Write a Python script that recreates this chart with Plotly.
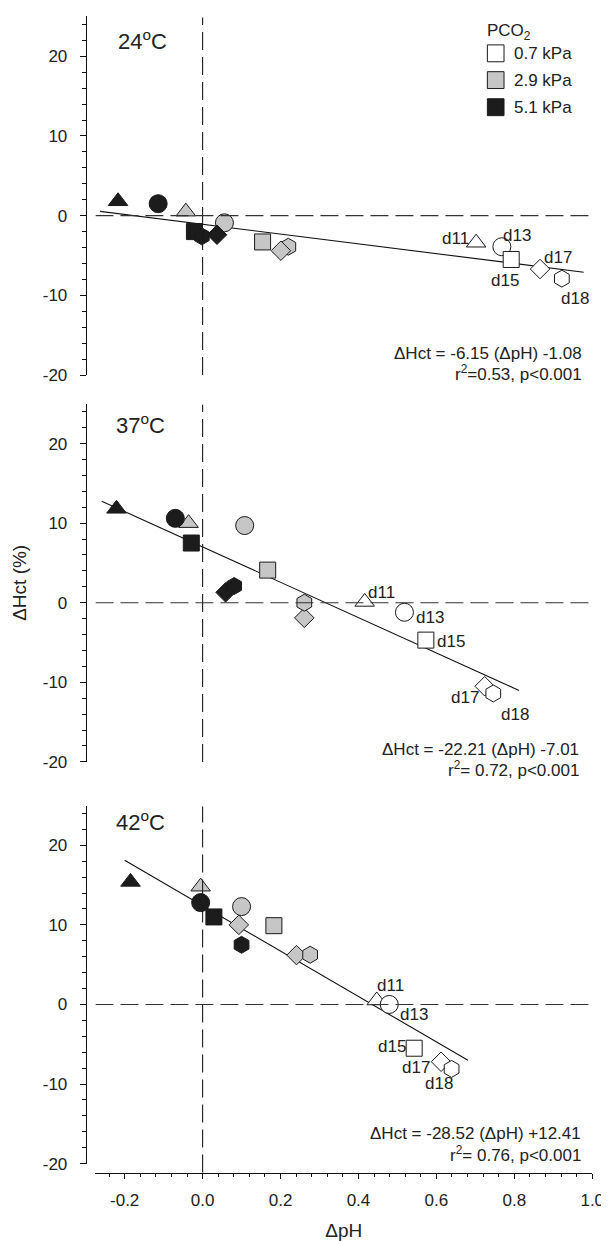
import plotly.graph_objects as go

W, H = 609, 1241

# ---------------- data ----------------
temps = ["24", "37", "42"]
days = ["d11", "d13", "d15", "d17", "d18"]
pco2_levels = ["0.7 kPa", "2.9 kPa", "5.1 kPa"]

x_tick_vals = [-0.2, 0.0, 0.2, 0.4, 0.6, 0.8, 1.0]
x_tick_text = ["-0.2", "0.0", "0.2", "0.4", "0.6", "0.8", "1.0"]
y_tick_vals = [-20, -10, 0, 10, 20]
y_tick_text = ["-20", "-10", "0", "10", "20"]

# 24 degC
ph_24_07 = [0.702, 0.768, 0.792, 0.866, 0.922]
hct_24_07 = [-3.4, -3.9, -5.5, -6.7, -7.9]
day_24_07 = ["d11", "d13", "d15", "d17", "d18"]
ph_24_29 = [-0.043, 0.056, 0.154, 0.220, 0.201]
hct_24_29 = [0.5, -0.9, -3.3, -3.9, -4.4]
day_24_29 = ["d11", "d13", "d15", "d18", "d17"]
ph_24_51 = [-0.217, -0.114, -0.021, -0.002, 0.037]
hct_24_51 = [1.8, 1.5, -2.0, -2.6, -2.4]
day_24_51 = ["d11", "d13", "d15", "d18", "d17"]

# 37 degC
ph_37_07 = [0.416, 0.518, 0.573, 0.724, 0.746]
hct_37_07 = [0.1, -1.2, -4.7, -10.5, -11.4]
day_37_07 = ["d11", "d13", "d15", "d17", "d18"]
ph_37_29 = [-0.036, 0.108, 0.167, 0.261, 0.261]
hct_37_29 = [10.0, 9.7, 4.1, -1.9, 0.0]
day_37_29 = ["d11", "d13", "d15", "d17", "d18"]
ph_37_51 = [-0.221, -0.070, -0.029, 0.059, 0.081]
hct_37_51 = [11.8, 10.6, 7.5, 1.3, 2.1]
day_37_51 = ["d11", "d13", "d15", "d17", "d18"]

# 42 degC
ph_42_07 = [0.447, 0.479, 0.543, 0.612, 0.639]
hct_42_07 = [0.5, 0.0, -5.5, -7.2, -8.1]
day_42_07 = ["d11", "d13", "d15", "d17", "d18"]
ph_42_29 = [-0.005, 0.100, 0.183, 0.093, 0.241, 0.276]
hct_42_29 = [14.8, 12.3, 9.9, 10.0, 6.2, 6.25]
day_42_29 = ["d11", "d13", "d15", "d17", "d17", "d18"]
ph_42_51 = [-0.185, -0.005, 0.029, 0.100]
hct_42_51 = [15.4, 12.8, 11.0, 7.5]
day_42_51 = ["d11", "d13", "d15", "d18"]

# regression lines (the 37 degC line as drawn has intercept +7.01)
fit_slope = [-6.15, -22.21, -28.52]
fit_intercept = [-1.08, 7.01, 12.41]
fit_x_start = [-0.263, -0.259, -0.200]
fit_x_end = [0.978, 0.812, 0.681]
eq_line1 = ["\u0394Hct = -6.15 (\u0394pH) -1.08",
            "\u0394Hct = -22.21 (\u0394pH) -7.01",
            "\u0394Hct = -28.52 (\u0394pH) +12.41"]
eq_line2 = ["r<sup>2</sup>=0.53, p&lt;0.001",
            "r<sup>2</sup>= 0.72, p&lt;0.001",
            "r<sup>2</sup>= 0.76, p&lt;0.001"]

# ---------------- layout positions ----------------
# day-label placement for the 0.7 kPa points (data units)
lab_x = [[0.649, 0.806, 0.776, 0.912, 0.956],
         [0.460, 0.583, 0.638, 0.673, 0.802],
         [0.482, 0.542, 0.487, 0.547, 0.606]]
lab_y = [[-2.9, -2.5, -8.1, -5.3, -10.35],
         [1.33, -1.87, -4.9, -11.95, -14.0],
         [2.42, -1.25, -5.3, -7.9, -9.9]]
# equation text (pixel rows / right edge)
eq_py = [[348.0, 367.5], [747.5, 767.0], [1134.5, 1155.0]]
eq_px = [587.5, 585.0, 586.5]
temp_pos = [(-0.155, 22.1), (-0.16, 22.4), (-0.16, 23.0)]

# ---------------- style ----------------
FONT = "Liberation Sans, Arial, Helvetica, sans-serif"
TXT = "#222222"
fills = {"0.7 kPa": "#ffffff", "2.9 kPa": "#c6c6c6", "5.1 kPa": "#1c1c1c"}
symbols = {"d11": "triangle-up", "d13": "circle", "d15": "square",
           "d17": "diamond", "d18": "hexagon"}
sizes = {"d11": 17, "d13": 18, "d15": 16, "d17": 15, "d18": 17}
FS = 17

def px_x(px):
    return px / W

def px_y(py):
    return 1 - py / H

# panel domains (pixel rows of y=25 and y=-20)
panel_px = [(8.5, 370.0), (399.0, 760.0), (804.0, 1165.0)]
x_dom = [px_x(89.2), px_x(596.0)]
x_range = [-0.275, 1.0]
y_range = [-20, 25]
yaxis_pos = px_x(79.3)
xaxis_pos = px_y(1174.0)

groups = [
    [(ph_24_07, hct_24_07, day_24_07, "0.7 kPa"),
     (ph_24_29, hct_24_29, day_24_29, "2.9 kPa"),
     (ph_24_51, hct_24_51, day_24_51, "5.1 kPa")],
    [(ph_37_07, hct_37_07, day_37_07, "0.7 kPa"),
     (ph_37_29, hct_37_29, day_37_29, "2.9 kPa"),
     (ph_37_51, hct_37_51, day_37_51, "5.1 kPa")],
    [(ph_42_07, hct_42_07, day_42_07, "0.7 kPa"),
     (ph_42_29, hct_42_29, day_42_29, "2.9 kPa"),
     (ph_42_51, hct_42_51, day_42_51, "5.1 kPa")],
]

fig = go.Figure()
shapes = []
annotations = []

for i in range(3):
    xa = "x" if i == 0 else f"x{i+1}"
    ya = "y" if i == 0 else f"y{i+1}"
    # regression line
    xs = [fit_x_start[i], fit_x_end[i]]
    ys = [fit_slope[i] * v + fit_intercept[i] for v in xs]
    fig.add_trace(go.Scatter(x=xs, y=ys, mode="lines", xaxis=xa, yaxis=ya,
                             line=dict(color="#111111", width=1.1),
                             showlegend=False, hoverinfo="skip"))
    # markers
    for ph, hct, dd, lvl in groups[i]:
        fig.add_trace(go.Scatter(
            x=ph, y=hct, mode="markers", xaxis=xa, yaxis=ya, showlegend=False,
            name=lvl,
            marker=dict(symbol=[symbols[d] for d in dd],
                        size=[sizes[d] for d in dd],
                        color=fills[lvl], opacity=1,
                        line=dict(color="#1a1a1a", width=1)),
        ))
    # dashed reference lines
    top_px, bot_px = panel_px[i]
    bot_ext = 1174.0 if i == 2 else bot_px
    shapes.append(dict(type="line", xref=xa, yref="paper", x0=0, x1=0,
                       y0=px_y(bot_ext), y1=px_y(top_px + 1),
                       line=dict(color="#1a1a1a", width=1.1, dash="18px,7px")))
    shapes.append(dict(type="line", xref=xa, yref=ya, x0=x_range[0], x1=x_range[1],
                       y0=0, y1=0,
                       line=dict(color="#333333", width=1.1, dash="18px,7px")))
    # day labels
    for k, d in enumerate(days):
        annotations.append(dict(x=lab_x[i][k], y=lab_y[i][k], xref=xa, yref=ya,
                                text=d, showarrow=False, xanchor="center",
                                yanchor="middle",
                                font=dict(family=FONT, size=FS, color=TXT)))
    # equations
    annotations.append(dict(x=px_x(eq_px[i]), y=px_y(eq_py[i][0]), xref="paper", yref="paper",
                            text=eq_line1[i], showarrow=False, xanchor="right",
                            yanchor="middle", font=dict(family=FONT, size=FS, color=TXT)))
    annotations.append(dict(x=px_x(eq_px[i]), y=px_y(eq_py[i][1]), xref="paper", yref="paper",
                            text=eq_line2[i], showarrow=False, xanchor="right",
                            yanchor="middle", font=dict(family=FONT, size=FS, color=TXT)))
    # temperature label
    annotations.append(dict(x=temp_pos[i][0], y=temp_pos[i][1], xref=xa, yref=ya,
                            text=f"{temps[i]}<sup>o</sup>C", showarrow=False,
                            xanchor="center", yanchor="middle",
                            font=dict(family=FONT, size=22, color=TXT)))

# ---------------- axes ----------------
axis_font = dict(family=FONT, size=FS, color=TXT)
layout_axes = {}
for i in range(3):
    top_px, bot_px = panel_px[i]
    xk = "xaxis" if i == 0 else f"xaxis{i+1}"
    yk = "yaxis" if i == 0 else f"yaxis{i+1}"
    ya = "y" if i == 0 else f"y{i+1}"
    xdict = dict(domain=x_dom, range=x_range, showgrid=False, zeroline=False,
                 fixedrange=True)
    if i < 2:
        xdict.update(visible=False, anchor=ya)
    else:
        xdict.update(anchor="free", position=xaxis_pos, showline=True,
                     linecolor="#111111", linewidth=1, ticks="outside",
                     ticklen=5, tickwidth=1, tickcolor="#111111",
                     ticklabelstandoff=7,
                     tickmode="array", tickvals=x_tick_vals, ticktext=x_tick_text,
                     tickfont=axis_font,
                     minor=dict(ticks="outside", ticklen=3, tick0=0, dtick=0.04,
                                tickcolor="#111111", tickwidth=1),
                     title=dict(text="\u0394pH", font=dict(family=FONT, size=19, color=TXT),
                                standoff=14))
    layout_axes[xk] = xdict
    ydict = dict(domain=[px_y(bot_px), px_y(top_px)], range=y_range,
                 anchor="free", position=yaxis_pos, showline=True,
                 linecolor="#111111", linewidth=1, showgrid=False, zeroline=False,
                 ticks="outside", ticklen=6, tickwidth=1, tickcolor="#111111",
                 ticklabelstandoff=9,
                 tickmode="array", tickvals=y_tick_vals, ticktext=y_tick_text,
                 tickfont=axis_font, fixedrange=True,
                 minor=dict(ticks="outside", ticklen=3.5, tick0=0, dtick=2,
                            tickcolor="#111111", tickwidth=1))
    if i == 1:
        ydict["title"] = dict(text="\u0394Hct (%)",
                              font=dict(family=FONT, size=19, color=TXT), standoff=10)
    layout_axes[yk] = ydict

# ---------------- legend (PCO2 key) ----------------
leg_cy = [45.7, 72.7, 100.0]
for lvl, cy in zip(pco2_levels, leg_cy):
    shapes.append(dict(type="rect", xref="paper", yref="paper",
                       x0=px_x(489), x1=px_x(506), y0=px_y(cy + 8.5), y1=px_y(cy - 8.5),
                       fillcolor=fills[lvl], line=dict(color="#1a1a1a", width=1)))
    annotations.append(dict(x=px_x(514), y=px_y(cy), xref="paper", yref="paper",
                            text=lvl, showarrow=False, xanchor="left", yanchor="middle",
                            font=dict(family=FONT, size=FS, color=TXT)))
annotations.append(dict(x=px_x(487), y=px_y(24), xref="paper", yref="paper",
                        text="PCO<sub>2</sub>", showarrow=False, xanchor="left",
                        yanchor="middle", font=dict(family=FONT, size=FS, color=TXT)))

fig.update_layout(
    width=W, height=H,
    margin=dict(l=0, r=0, t=0, b=0),
    paper_bgcolor="white", plot_bgcolor="white",
    showlegend=False,
    shapes=shapes, annotations=annotations,
    font=dict(family=FONT, color=TXT),
    **layout_axes,
)

fig.write_html("out.html")
